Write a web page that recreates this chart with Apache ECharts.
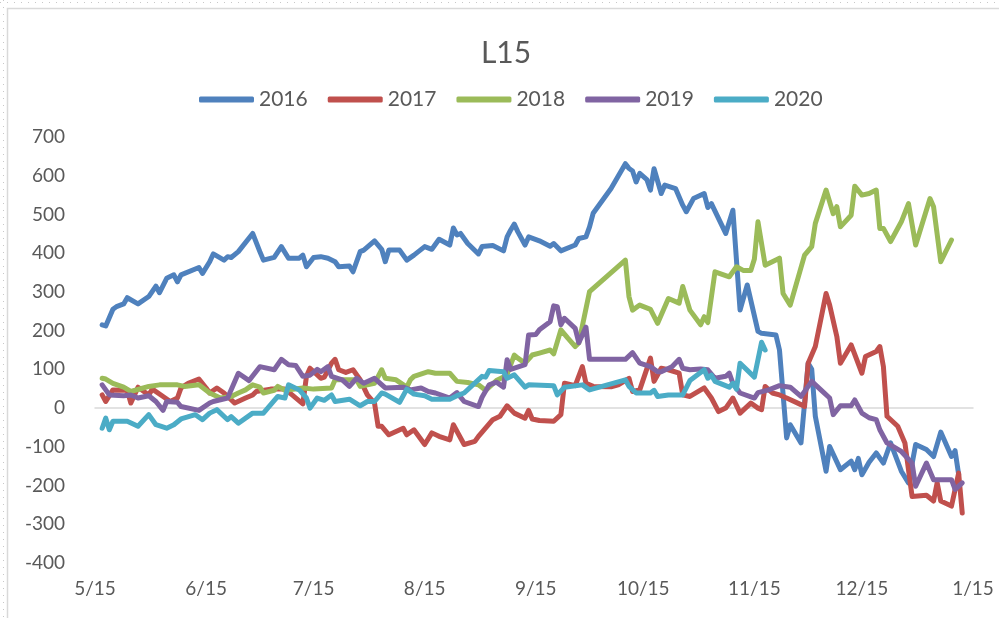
<!DOCTYPE html>
<html>
<head>
<meta charset="utf-8">
<script src="https://cdn.jsdelivr.net/npm/echarts@6/dist/echarts.min.js"></script>
<style>
  html, body { margin: 0; padding: 0; background: #fff; }
  #chart { width: 999px; height: 618px; }
</style>
</head>
<body>
<div id="chart"></div>
<script>
// x values are days counted from 5/15
const tickDays = [0, 31, 61, 92, 123, 153, 184, 214, 245];
const tickLabels = ['5/15', '6/15', '7/15', '8/15', '9/15', '10/15', '11/15', '12/15', '1/15'];
const seriesNames = ['2016', '2017', '2018', '2019', '2020'];
const colors = ['#4F81BD', '#C0504D', '#9BBB59', '#8064A2', '#4BACC6'];

const day2016 = [2, 3, 5, 6, 8, 9, 12, 15, 17, 18, 20, 22, 23, 24, 29, 30, 32, 33, 36, 37, 38, 40, 44, 46, 47, 50, 52, 54, 57, 58, 59, 61, 63, 65, 67, 68, 71, 72, 74, 75, 78, 80, 81, 82, 85, 87, 89, 92, 94, 96, 99, 100, 101, 102, 104, 107, 108, 111, 114, 115, 116, 117, 118, 120, 121, 124, 127, 128, 130, 134, 135, 137, 138, 139, 144, 148, 149, 150, 151, 152, 154, 155, 156, 158, 159, 162, 164, 165, 167, 170, 171, 172, 176, 178, 180, 182, 185, 186, 190, 191, 193, 194, 197, 199, 200, 201, 204, 205, 208, 211, 212, 213, 214, 216, 218, 220, 222, 225, 227, 229, 232, 234, 236, 239, 240, 241];
const val2016 = [215, 212, 255, 262, 269, 285, 269, 288, 315, 298, 335, 344, 326, 344, 363, 348, 378, 398, 382, 391, 389, 404, 451, 404, 382, 389, 417, 387, 387, 395, 365, 389, 391, 387, 378, 365, 367, 352, 404, 408, 432, 410, 378, 408, 408, 382, 395, 417, 410, 436, 421, 465, 447, 451, 425, 398, 417, 420, 406, 442, 460, 475, 455, 421, 442, 432, 418, 425, 406, 421, 438, 442, 468, 503, 567, 631, 619, 612, 584, 606, 590, 563, 618, 554, 576, 567, 524, 507, 541, 554, 518, 528, 451, 511, 253, 318, 198, 193, 189, 150, -77, -43, -90, 116, 100, -21, -163, -99, -159, -137, -159, -130, -172, -140, -116, -142, -90, -163, -193, -94, -107, -125, -62, -125, -110, -172];

const day2017 = [2, 3, 5, 9, 10, 12, 15, 16, 19, 21, 23, 24, 26, 29, 31, 32, 34, 36, 39, 42, 44, 45, 49, 53, 55, 58, 59, 60, 63, 64, 66, 67, 68, 70, 72, 74, 76, 78, 79, 80, 82, 86, 87, 89, 92, 94, 96, 99, 100, 103, 106, 107, 111, 113, 115, 117, 120, 121, 122, 124, 128, 130, 131, 134, 136, 137, 139, 144, 146, 149, 150, 152, 155, 156, 158, 160, 163, 164, 166, 170, 172, 174, 176, 178, 180, 183, 185, 186, 187, 189, 191, 193, 197, 198, 199, 201, 204, 205, 207, 208, 211, 214, 215, 218, 219, 220, 221, 224, 226, 228, 232, 234, 235, 236, 239, 241, 242];
const val2017 = [34, 17, 47, 46, 13, 54, 34, 49, 30, 17, 26, 52, 64, 75, 52, 39, 52, 39, 13, 26, 34, 43, 49, 49, 34, 11, 82, 103, 77, 80, 116, 126, 99, 92, 99, 73, 34, 13, -47, -47, -69, -52, -69, -56, -94, -64, -73, -82, -43, -94, -86, -73, -30, -21, 6, -13, -26, -6, -28, -32, -34, -17, 64, 58, 107, 64, 56, 55, 60, 77, 43, 47, 129, 69, 103, 99, 90, 34, 30, 52, 26, -9, 0, 26, -13, 13, 0, -4, 56, 39, 34, 26, 9, 4, 116, 159, 296, 266, 185, 116, 163, 90, 133, 146, 159, 107, -21, -47, -90, -228, -225, -240, -193, -240, -253, -168, -271];

const day2018 = [2, 3, 5, 8, 10, 12, 15, 18, 23, 25, 29, 32, 35, 38, 40, 42, 44, 46, 47, 50, 51, 53, 58, 61, 66, 67, 73, 74, 78, 80, 81, 84, 87, 88, 89, 93, 95, 99, 101, 104, 107, 109, 112, 114, 115, 117, 118, 120, 122, 124, 127, 128, 130, 132, 134, 135, 138, 148, 149, 150, 152, 155, 157, 160, 163, 164, 166, 169, 170, 171, 173, 177, 179, 181, 183, 184, 185, 187, 191, 192, 194, 198, 200, 201, 204, 206, 207, 208, 211, 212, 214, 216, 218, 219, 220, 222, 225, 227, 229, 233, 234, 236, 239];
const val2018 = [77, 75, 64, 54, 43, 48, 56, 60, 60, 56, 60, 39, 26, 30, 39, 47, 60, 54, 39, 46, 56, 46, 52, 49, 52, 73, 73, 56, 64, 99, 77, 73, 54, 73, 82, 94, 90, 90, 69, 66, 60, 46, 71, 80, 88, 137, 129, 116, 137, 142, 150, 140, 202, 180, 159, 168, 301, 382, 288, 253, 266, 255, 219, 283, 271, 314, 253, 215, 236, 221, 352, 339, 365, 355, 355, 385, 481, 369, 387, 296, 266, 395, 417, 477, 563, 502, 520, 468, 498, 573, 550, 554, 563, 464, 464, 430, 481, 528, 421, 541, 520, 378, 434];

const day2019 = [2, 4, 8, 10, 12, 15, 17, 19, 20, 23, 24, 29, 32, 33, 37, 40, 43, 46, 50, 52, 54, 56, 58, 60, 62, 63, 65, 66, 69, 71, 73, 75, 78, 81, 86, 88, 91, 93, 95, 99, 101, 103, 107, 108, 110, 112, 114, 115, 116, 120, 121, 123, 124, 127, 128, 129, 130, 131, 134, 135, 137, 138, 148, 150, 152, 155, 157, 158, 161, 163, 164, 166, 169, 171, 173, 176, 177, 178, 180, 184, 185, 188, 191, 194, 197, 200, 203, 205, 206, 208, 211, 212, 214, 216, 218, 219, 221, 225, 228, 229, 232, 234, 239, 240, 242];
const val2019 = [60, 34, 32, 34, 26, 32, 17, -6, 17, 15, 4, -6, 13, 17, 26, 90, 71, 107, 99, 126, 112, 110, 82, 85, 100, 94, 107, 82, 73, 56, 77, 64, 77, 52, 54, 47, 52, 43, 39, 26, 40, 17, 4, 28, 60, 67, 54, 125, 100, 112, 189, 190, 202, 223, 264, 262, 215, 232, 206, 169, 209, 126, 126, 143, 116, 107, 94, 94, 107, 126, 103, 99, 101, 99, 77, 82, 90, 64, 39, 26, 40, 47, 58, 54, 30, 69, 43, 26, -17, 6, 6, 21, -13, -25, -30, -56, -90, -112, -142, -202, -142, -185, -185, -210, -193];

const day2020 = [2, 3, 4, 5, 9, 12, 15, 17, 20, 22, 24, 28, 30, 32, 34, 37, 38, 40, 44, 47, 51, 53, 54, 57, 59, 60, 62, 64, 66, 67, 71, 74, 76, 78, 80, 81, 85, 87, 89, 92, 94, 99, 101, 103, 108, 109, 110, 114, 115, 117, 120, 121, 128, 129, 131, 136, 138, 148, 149, 151, 155, 156, 157, 160, 164, 166, 170, 171, 172, 173, 177, 178, 179, 180, 184, 186, 187];
const val2020 = [-52, -26, -56, -34, -34, -47, -17, -43, -52, -43, -28, -17, -30, -13, -4, -30, -22, -39, -13, -13, 30, 26, 60, 47, 26, 0, 26, 20, 34, 17, 23, 6, 17, 17, 39, 36, 15, 49, 36, 32, 23, 23, 32, 39, 82, 80, 97, 94, 77, 86, 54, 60, 58, 34, 54, 60, 47, 73, 56, 39, 39, 46, 30, 34, 34, 71, 99, 77, 85, 69, 54, 64, 49, 116, 80, 170, 150];

const allDays = [day2016, day2017, day2018, day2019, day2020];
const allVals = [val2016, val2017, val2018, val2019, val2020];

const font = 'Lato, "Open Sans", sans-serif';
const textColor = '#595959';

const chart = echarts.init(document.getElementById('chart'));
chart.setOption({
  animation: false,
  backgroundColor: '#fff',
  color: colors,
  title: {
    text: 'L15',
    left: 501,
    textAlign: 'center',
    top: 33,
    textStyle: {fontFamily: font, fontSize: 30, fontWeight: 'normal', color: textColor}
  },
  legend: {
    data: seriesNames,
    icon: 'roundRect',
    left: 194,
    top: 84,
    itemWidth: 55,
    itemHeight: 6,
    itemGap: 20,
    textStyle: {fontFamily: font, fontSize: 21, color: textColor}
  },
  grid: {left: 95, right: 26, top: 137, bottom: 55, containLabel: false},
  xAxis: [{
    type: 'value',
    min: 0,
    max: 245,
    axisLine: {show: false, onZero: false},
    axisTick: {show: false},
    splitLine: {show: false},
    axisLabel: {
      customValues: tickDays,
      formatter: v => tickLabels[tickDays.indexOf(Math.round(v))],
      fontFamily: font,
      fontSize: 19,
      color: textColor,
      margin: 16
    }
  }, {
    type: 'value',
    min: 0,
    max: 245,
    position: 'bottom',
    axisLine: {show: true, onZero: true, lineStyle: {color: '#d9d9d9', width: 1.5}},
    axisTick: {show: false},
    axisLabel: {show: false},
    splitLine: {show: false}
  }],
  yAxis: {
    type: 'value',
    min: -400,
    max: 700,
    interval: 100,
    axisLine: {show: false},
    axisTick: {show: false},
    splitLine: {show: false},
    axisLabel: {fontFamily: font, fontSize: 19, color: textColor, margin: 30}
  },
  graphic: [
    {type: 'rect', shape: {x: 7.5, y: 8.5, width: 1000, height: 620}, style: {fill: null, stroke: '#d9d9d9', lineWidth: 1.5}, silent: true},
    {type: 'line', shape: {x1: 0, y1: 2.5, x2: 999, y2: 2.5}, style: {stroke: '#c8c8c8', lineWidth: 1, lineDash: [1, 6]}, silent: true},
    {type: 'line', shape: {x1: 3.5, y1: 0, x2: 3.5, y2: 618}, style: {stroke: '#c8c8c8', lineWidth: 1, lineDash: [1, 6]}, silent: true}
  ],
  series: seriesNames.map((name, i) => ({
    name,
    type: 'line',
    xAxisIndex: 0,
    symbol: 'none',
    smooth: false,
    lineStyle: {width: 5, cap: 'round', join: 'round'},
    data: allDays[i].map((d, k) => [d, allVals[i][k]])
  }))
});
</script>
</body>
</html>
